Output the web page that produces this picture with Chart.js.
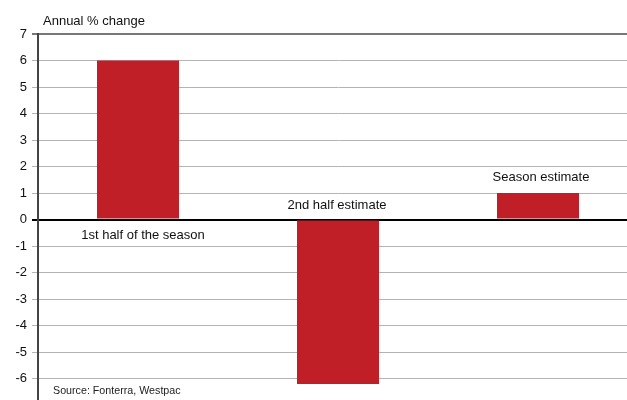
<!DOCTYPE html>
<html>
<head>
<meta charset="utf-8">
<script src="https://cdn.jsdelivr.net/npm/chart.js@4"></script>
<style>
  html, body { margin: 0; padding: 0; background: #fff; overflow: hidden; }
  canvas { display: block; }
</style>
</head>
<body>
<canvas id="chart" width="640" height="418"></canvas>
<script>
// chart data
var categories = ["1st half of the season", "2nd half estimate", "Season estimate"];
var values = [6, -6.2, 1];
var yTicks = [7, 6, 5, 4, 3, 2, 1, 0, -1, -2, -3, -4, -5, -6, -7];
var axisTitle = "Annual % change";
var sourceNote = "Source: Fonterra, Westpac";

var barRed = "#c01f28";
var font = "'Liberation Sans', Arial, sans-serif";

// bar captions drawn next to each bar, above or below the zero line
var labelPlugin = {
  id: 'barLabels',
  afterDatasetsDraw: function(chart) {
    var ctx = chart.ctx;
    var x = chart.scales.x, y = chart.scales.y, area = chart.chartArea;
    ctx.save();
    ctx.fillStyle = "#111";
    ctx.font = "13px " + font;
    ctx.textAlign = "center";
    ctx.textBaseline = "middle";
    ctx.fillText(categories[0], x.getPixelForValue(0) + 5, y.getPixelForValue(0) + 16);
    ctx.fillText(categories[1], x.getPixelForValue(1) - 1, y.getPixelForValue(0) - 14);
    ctx.fillText(categories[2], x.getPixelForValue(2) + 3, y.getPixelForValue(values[2]) - 16);

    ctx.textAlign = "left";
    ctx.fillText(axisTitle, area.left + 5, area.top - 13);

    // slightly condensed source line
    ctx.font = "11.5px " + font;
    ctx.fillStyle = "#222";
    ctx.translate(area.left + 15, 391);
    ctx.scale(0.93, 1);
    ctx.fillText(sourceNote, 0, 0);
    ctx.restore();
  }
};

new Chart(document.getElementById('chart').getContext('2d'), {
  type: 'bar',
  data: {
    labels: categories,
    datasets: [{
      data: values,
      backgroundColor: barRed,
      borderWidth: 0,
      categoryPercentage: 1,
      barPercentage: 0.41
    }]
  },
  options: {
    responsive: false,
    animation: false,
    layout: { padding: { top: 34, right: 2, bottom: 8, left: 0 } },
    plugins: { legend: { display: false }, tooltip: { enabled: false } },
    scales: {
      x: { display: false },
      y: {
        min: -7,
        max: 7,
        afterFit: function(scale) { scale.width = 38; },
        afterBuildTicks: function(scale) {
          scale.ticks = yTicks.map(function(v) { return { value: v }; });
        },
        border: { color: "#444", width: 2 },
        grid: {
          tickLength: 6,
          color: function(c) {
            if (c.tick && c.tick.value === 0) return "#000";
            if (c.tick && c.tick.value === 7) return "#777";
            return "#b4b4b4";
          },
          lineWidth: function(c) {
            return (c.tick && (c.tick.value === 0 || c.tick.value === 7)) ? 2 : 1;
          }
        },
        ticks: {
          color: "#111",
          padding: 5,
          font: { family: font, size: 13 }
        }
      }
    }
  },
  plugins: [labelPlugin]
});
</script>
</body>
</html>
